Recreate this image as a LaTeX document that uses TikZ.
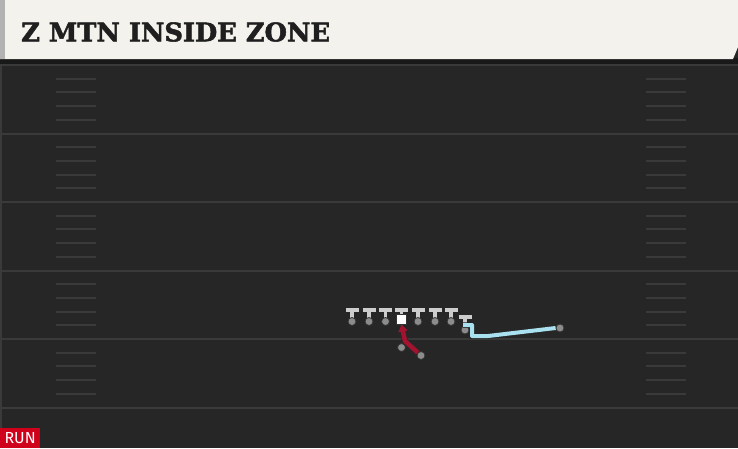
\documentclass[tikz,border=0pt]{standalone}
\usepackage{fontspec}
\newfontfamily\titlefont[BoldFeatures={FakeBold=2}]{DejaVu Serif}
\newfontfamily\tagfont{Fira Sans}
\usepackage{tikz}
\usetikzlibrary{arrows.meta}
\definecolor{cream}{HTML}{F4F2EC}
\definecolor{turf}{HTML}{262626}
\definecolor{chalk}{HTML}{3A3A3A}
\definecolor{player}{HTML}{CDCDCD}
\definecolor{foot}{HTML}{8C8C8C}
\definecolor{runred}{HTML}{A3132F}
\definecolor{iceblue}{HTML}{A9E1F0}
\definecolor{tagred}{HTML}{D0021B}

\tikzset{
  dot/.style={circle, fill=foot, draw=black!80, line width=0.8pt, inner sep=0pt, minimum size=8pt},
  yardline/.style={chalk, line width=2pt},
  hashmark/.style={chalk, line width=2pt},
  tout/.style={black!85, line width=6pt},
  tin/.style={player, line width=4pt},
}

\begin{document}
\begin{tikzpicture}[x=1pt, y=-1pt]
            \useasboundingbox (0,0) rectangle (738,448);
            \fill[turf] (0,0) rectangle (738,448);

            % header
            \fill[black!90] (0,58) rectangle (738,64);
            \fill[cream] (0,0) -- (738,0) -- (738,47) -- (733,59) -- (0,59) -- cycle;
            \fill[gray!60] (0,0) rectangle (5,59);
            \node[anchor=west, inner sep=0pt, text=black!88,
                  font=\titlefont\bfseries\fontsize{25.7}{25.7}\selectfont] at (21,32) (title) {Z MTN INSIDE ZONE};

            % field
            \fill[chalk] (0,64) rectangle (2,448);
            \foreach \y in {65,133.5,202,270.5,339,407.5}
                \draw[yardline] (2,\y) -- (738,\y);
            \foreach \y in {65,133.5,202,270.5,339}
                \foreach \k in {1,...,4} {
                    \draw[hashmark] (56,\y+13.7*\k) -- (96,\y+13.7*\k);
                    \draw[hashmark] (646,\y+13.7*\k) -- (686,\y+13.7*\k);
                }

            % line
            \foreach \x [count=\i] in {352,369,385.5,401.5,418,435,451} {
                \draw[tout] (\x-7.5,310) -- (\x+7.5,310);
                \draw[tout, line width=5.5pt] (\x,310) -- (\x,320);
                \draw[tin] (\x-6.5,310) -- (\x+6.5,310);
                \draw[tin, line width=3.5pt] (\x,310) -- (\x,320);
                \node[dot] at (\x,321.5) (p\i) {};
            }
            \draw[tout] (457.5,317) -- (472.5,317);
            \draw[tout, line width=5.5pt] (465,317) -- (465,327);
            \draw[tin] (458.5,317) -- (471.5,317);
            \draw[tin, line width=3.5pt] (465,317) -- (465,327);
            \node[dot] at (465,330) (te) {};
            \coordinate (ts) at (463,325);

            \node[fill=white, draw=black!80, line width=0.6pt, minimum size=9.5pt, inner sep=0pt] at (401.5,319.5) (c) {};

            % backs
            \node[dot] at (401.5,347.5) (qb) {};
            \node[dot] at (421,355.5) (rb) {};
            \node[dot] at (560,328) (ye) {};

            % routes
            \draw[black!85, line width=6pt, line join=round] (rb) -- (405,341) -- ([yshift=-4pt]c.south);
            \draw[runred, line width=4.5pt, line join=round, -{Triangle[length=7pt,width=9pt]}]
                (rb) -- (405,341) -- (c.south);
            \draw[iceblue, line width=4pt, line join=round,
                  preaction={draw=black!85, line width=5.5pt}]
                (ts) -- (472,325) -- (472,336) -- (488,336) -- (ye.west);

            % tag
            \node[fill=tagred, text=white, anchor=south west, minimum width=40pt, minimum height=20pt,
                  inner sep=0pt, font=\tagfont\fontsize{16}{16}\selectfont] at (0,448) (tag) {RUN};
        \end{tikzpicture}
\end{document}
